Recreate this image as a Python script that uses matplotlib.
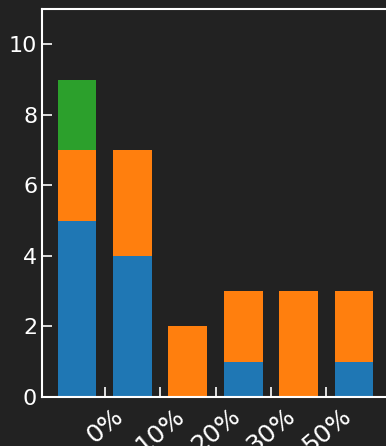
import matplotlib
matplotlib.use("Agg")
import matplotlib.pyplot as plt
import numpy as np

bins = [0, 1, 2, 3, 4, 5]
blue = [5, 4, 0, 1, 0, 1]
orange = [2, 3, 2, 2, 3, 2]
green = [2, 0, 0, 0, 0, 0]
tick_pos = [0.5, 1.5, 2.5, 3.5, 4.5]
tick_labels = ["0%", "10%", "20%", "30%", "50%"]

bg = "#222222"
fig = plt.figure(figsize=(3.86, 4.46), dpi=100, facecolor=bg)
W, H = 386, 446
left, right, bottom, top = 42, 389, 397, 9
ax = fig.add_axes([left / W, 1 - bottom / H, (right - left) / W, (bottom - top) / H])
ax.set_facecolor(bg)

x = np.array(bins)
b = np.array(blue)
o = np.array(orange)
g = np.array(green)
ax.bar(x, b, width=0.7, color="#1f77b4")
ax.bar(x, o, width=0.7, bottom=b, color="#ff7f0e")
ax.bar(x, g, width=0.7, bottom=b + o, color="#2ca02c")

ax.set_xlim(-0.63, 5.63)
ax.set_ylim(0, 11)
ax.set_yticks([0, 2, 4, 6, 8, 10])
ax.set_xticks(tick_pos)
ax.set_xticklabels(tick_labels, rotation=40, ha="center", fontsize=18)

for s in ax.spines.values():
    s.set_color("white")
    s.set_linewidth(1.5)
ax.tick_params(axis="y", direction="in", colors="white", labelsize=16,
               length=7, width=1.2, labelcolor="white")
ax.tick_params(axis="x", direction="in", colors="white",
               length=7, width=1.2, labelcolor="white", pad=5)

fig.savefig("out.png", dpi=100, facecolor=bg)
